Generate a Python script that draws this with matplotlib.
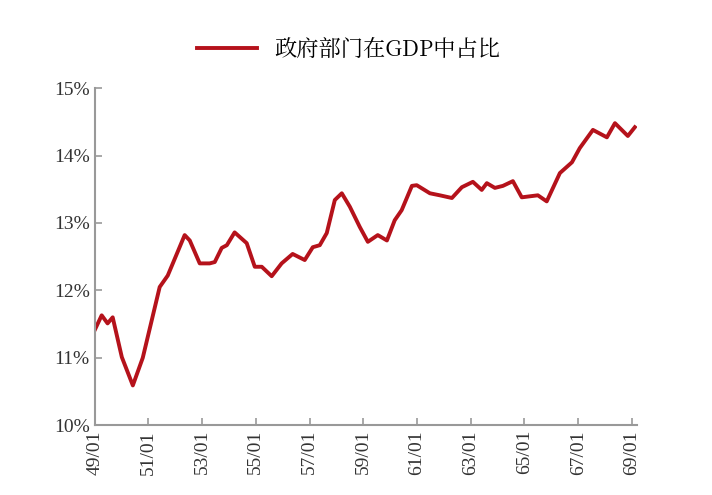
import matplotlib
matplotlib.use("Agg")
import matplotlib.pyplot as plt
import numpy as np

years = [1949.0,1949.26,1949.48,1949.67,1950.01,1950.42,1950.79,1951.42,1951.72,1952.35,1952.54,1952.91,
         1953.28,1953.47,1953.73,1953.92,1954.21,1954.66,1954.96,1955.22,1955.59,1955.96,1956.37,1956.82,
         1957.12,1957.38,1957.64,1957.94,1958.20,1958.50,1958.87,1959.17,1959.54,1959.88,1960.17,1960.43,
         1960.81,1960.99,1961.48,1961.85,1962.30,1962.67,1963.08,1963.41,1963.60,1963.90,1964.20,1964.57,
         1964.90,1965.50,1965.83,1966.32,1966.77,1967.06,1967.55,1968.07,1968.37,1968.85,1969.11]
share = [11.41,11.63,11.51,11.60,11.01,10.59,11.00,12.05,12.22,12.82,12.74,12.40,
         12.40,12.42,12.63,12.67,12.86,12.70,12.35,12.35,12.21,12.40,12.54,12.45,
         12.64,12.67,12.85,13.34,13.44,13.24,12.94,12.72,12.82,12.74,13.04,13.19,
         13.55,13.56,13.44,13.41,13.37,13.53,13.61,13.49,13.59,13.52,13.55,13.62,
         13.38,13.41,13.32,13.74,13.90,14.11,14.38,14.27,14.48,14.29,14.42]
tick_years = list(range(1949, 1970, 2))
tick_labels = [f"{y%100:02d}/01" for y in tick_years]
series_name = "政府部门在GDP中占比"

fig = plt.figure(figsize=(7.12, 4.95), dpi=100)
ax = fig.add_axes([0.133, 0.141, 0.762, 0.681])
red = "#B5121B"
ax.plot(years, share, color=red, lw=2.8, label=series_name, solid_joinstyle="round")
ax.set_xlim(1949, 1969.2)
ax.set_ylim(10, 15)
ax.set_yticks(np.arange(10, 15.01, 1))
ax.set_yticklabels([f"{v:.0f}%" for v in np.arange(10, 15.01, 1)],
                   fontfamily="Liberation Serif", fontsize=14, color="#333333")
ax.set_xticks(tick_years)
ax.set_xticklabels(tick_labels, rotation=90, fontfamily="Liberation Serif", fontsize=14, color="#333333")
for s in ["top", "right"]:
    ax.spines[s].set_visible(False)
for s in ["left", "bottom"]:
    ax.spines[s].set_color("#999999")
    ax.spines[s].set_linewidth(1.5)
ax.tick_params(direction="in", length=5, color="#999999", width=1.2)
fig.legend(loc="upper center", bbox_to_anchor=(0.49, 0.965), frameon=False,
           prop={"family": ["Noto Serif CJK SC", "Noto Sans CJK SC", "DejaVu Sans"], "size": 16},
           handlelength=2.7)
fig.savefig("out.png", dpi=100)
